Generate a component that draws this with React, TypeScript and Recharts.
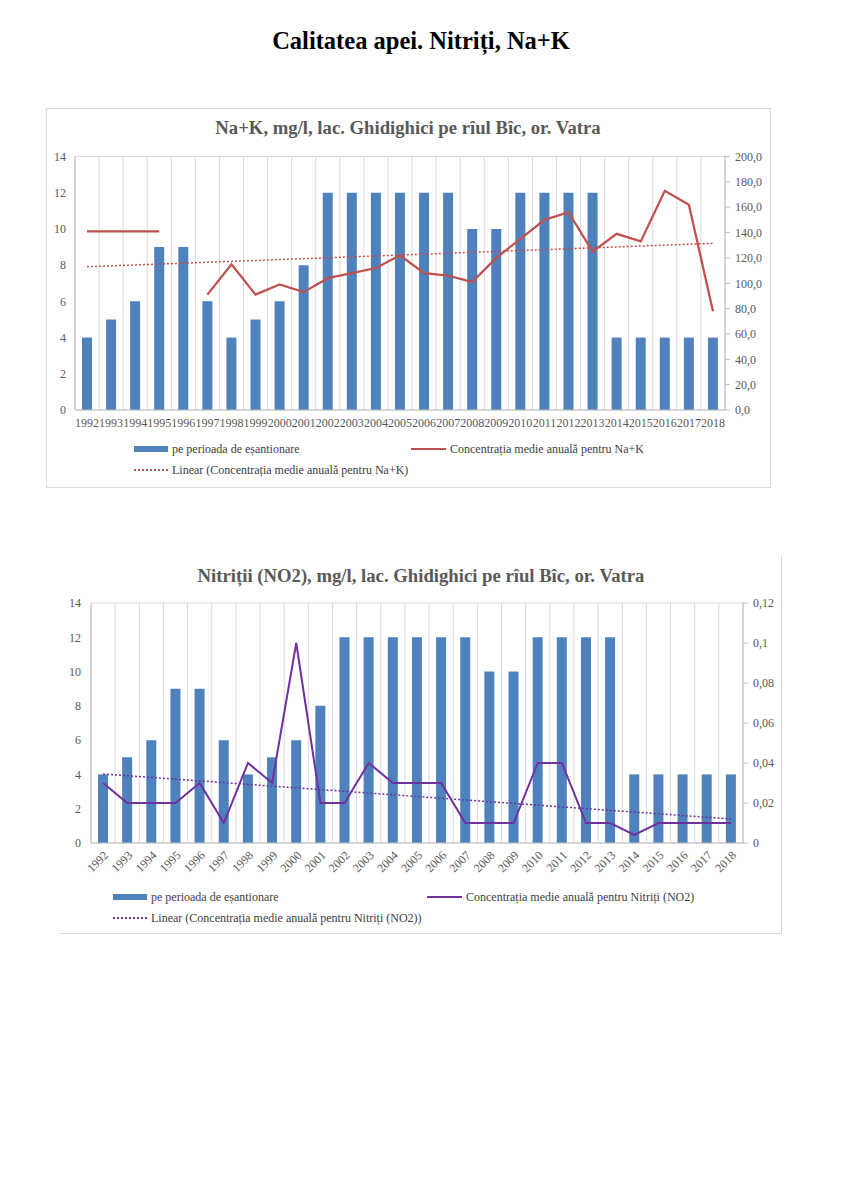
import React from 'react'
import {
  ComposedChart,
  Bar,
  Line,
  XAxis,
  YAxis,
  CartesianGrid,
  ReferenceLine,
} from 'recharts'

// ani de observatie
const years = [
  '1992', '1993', '1994', '1995', '1996', '1997', '1998', '1999', '2000',
  '2001', '2002', '2003', '2004', '2005', '2006', '2007', '2008', '2009',
  '2010', '2011', '2012', '2013', '2014', '2015', '2016', '2017', '2018',
]

// numar de probe pe perioada de esantionare
const samples = [4, 5, 6, 9, 9, 6, 4, 5, 6, 8, 12, 12, 12, 12, 12, 12, 10, 10, 12, 12, 12, 12, 4, 4, 4, 4, 4]

// concentratia medie anuala Na+K (1996 lipseste)
const naK = [141, 141, 141, 141, null, 91, 115, 91, 99, 93, 104, 108, 112, 122, 108, 106, 101, 120, 135, 150, 156, 125, 139, 133, 173, 162, 78]

// concentratia medie anuala nitriti
const no2 = [0.03, 0.02, 0.02, 0.02, 0.03, 0.01, 0.04, 0.03, 0.1, 0.02, 0.02, 0.04, 0.03, 0.03, 0.03, 0.01, 0.01, 0.01, 0.04, 0.04, 0.01, 0.01, 0.004, 0.01, 0.01, 0.01, 0.01]

// capetele liniei de tendinta (1992, 2018)
const naKTrend = [113, 131.5]
const no2Trend = [0.0345, 0.012]

const leftTicks = [0, 2, 4, 6, 8, 10, 12, 14]
const naKTicks = [0, 20, 40, 60, 80, 100, 120, 140, 160, 180, 200]
const no2Ticks = [0, 0.02, 0.04, 0.06, 0.08, 0.1, 0.12]

const FONT = '"Liberation Serif", "Times New Roman", serif'
const BLUE = '#4F81BD'
const RED = '#C0504D'
const PURPLE = '#7030A0'
const GRID = '#D9D9D9'
const AXIS = '#BFBFBF'
const TXT = '#595959'

const data1 = years.map((year, i) => ({ year, probe: samples[i], conc: naK[i] }))
const data2 = years.map((year, i) => ({ year, probe: samples[i], conc: no2[i] }))

const tick = { fontSize: 12, fill: TXT, fontFamily: FONT }

// linii verticale la marginea categoriilor, ca in Excel
const boundaryLines = ({ offset }: any) =>
  Array.from({ length: years.length + 1 }, (_, i) => offset.left + (i * offset.width) / years.length)

function LegendItem({ kind, color, label, x, y }: { kind: 'bar' | 'line' | 'dot'; color: string; label: string; x: number; y: number }) {
  return (
    <div style={{ position: 'absolute', left: x, top: y - 8, height: 16, display: 'flex', alignItems: 'center', whiteSpace: 'nowrap' }}>
      {kind === 'bar' && <span style={{ width: 34, height: 6, background: color, marginRight: 4 }} />}
      {kind === 'line' && <span style={{ width: 35, height: 0, borderTop: `2px solid ${color}`, marginRight: 4 }} />}
      {kind === 'dot' && <span style={{ width: 34, height: 0, borderTop: `2px dotted ${color}`, marginRight: 4 }} />}
      <span style={{ fontSize: 12, color: '#404040', fontFamily: FONT }}>{label}</span>
    </div>
  )
}

export default function App() {
  return (
    <div style={{ position: 'absolute', left: 0, top: 0, width: 842, height: 1191, fontFamily: FONT }}>
      <div style={{ position: 'absolute', left: 0, width: 842, top: 27, textAlign: 'center', fontSize: 24.5, fontWeight: 'bold', color: '#000' }}>
        Calitatea apei. Nitriți, Na+K
      </div>

      {/* Graficul 1: Na+K */}
      <div style={{ position: 'absolute', left: 46, top: 108, width: 723, height: 378, border: '1px solid #D9D9D9' }} />
      <div style={{ position: 'absolute', left: 46, width: 724, top: 117, textAlign: 'center', fontSize: 18.7, fontWeight: 'bold', color: TXT }}>
        Na+K, mg/l, lac. Ghidighici pe rîul Bîc, or. Vatra
      </div>
      <div style={{ position: 'absolute', left: 46, top: 108 }}>
        <ComposedChart width={724} height={379} data={data1} margin={{ top: 48.5, right: 0, left: 0, bottom: 57 }}>
          <CartesianGrid stroke={GRID} verticalCoordinatesGenerator={boundaryLines} />
          <XAxis dataKey="year" interval={0} tick={tick} tickLine={false} axisLine={{ stroke: AXIS }} height={20} tickSize={4} tickMargin={4} />
          <YAxis yAxisId="left" domain={[0, 14]} ticks={leftTicks} tick={tick} tickLine={false} axisLine={{ stroke: AXIS }} width={29} tickSize={4} tickMargin={5} />
          <YAxis yAxisId="right" orientation="right" domain={[0, 200]} ticks={naKTicks} tick={tick} tickLine={{ stroke: AXIS }} axisLine={{ stroke: AXIS }} width={45} tickSize={5} tickMargin={5}
            tickFormatter={(v: number) => v.toFixed(1).replace('.', ',')} />
          <Bar yAxisId="left" dataKey="probe" fill={BLUE} barSize={10} isAnimationActive={false} />
          <Line yAxisId="right" dataKey="conc" stroke={RED} strokeWidth={2.25} dot={false} connectNulls={false} isAnimationActive={false} />
          <ReferenceLine yAxisId="right" segment={[{ x: years[0], y: naKTrend[0] }, { x: years[years.length - 1], y: naKTrend[1] }]}
            stroke={RED} strokeWidth={1.5} strokeDasharray="2 2" />
        </ComposedChart>
      </div>
      <LegendItem kind="bar" color={BLUE} label="pe perioada de eșantionare" x={134} y={449} />
      <LegendItem kind="line" color={RED} label="Concentrația medie anuală pentru Na+K" x={411} y={449} />
      <LegendItem kind="dot" color={RED} label="Linear (Concentrația medie anuală pentru Na+K)" x={134} y={470} />

      {/* Graficul 2: Nitriti */}
      <div style={{ position: 'absolute', left: 60, top: 555, width: 721, height: 378, borderRight: '1px solid #D9D9D9', borderBottom: '1px solid #D9D9D9' }} />
      <div style={{ position: 'absolute', left: 60, width: 722, top: 565, textAlign: 'center', fontSize: 18.7, fontWeight: 'bold', color: TXT }}>
        Nitriții (NO2), mg/l, lac. Ghidighici pe rîul Bîc, or. Vatra
      </div>
      <div style={{ position: 'absolute', left: 60, top: 555 }}>
        <ComposedChart width={722} height={379} data={data2} margin={{ top: 48, right: 0, left: 0, bottom: 31 }}>
          <CartesianGrid stroke={GRID} verticalCoordinatesGenerator={boundaryLines} />
          <XAxis dataKey="year" interval={0} tick={tick} angle={-45} textAnchor="end" tickLine={false} axisLine={{ stroke: AXIS }} height={60} tickSize={4} tickMargin={3} />
          <YAxis yAxisId="left" domain={[0, 14]} ticks={leftTicks} tick={tick} tickLine={false} axisLine={{ stroke: AXIS }} width={31} tickSize={5} tickMargin={5} />
          <YAxis yAxisId="right" orientation="right" domain={[0, 0.12]} ticks={no2Ticks} tick={tick} tickLine={{ stroke: AXIS }} axisLine={{ stroke: AXIS }} width={39} tickSize={5} tickMargin={5}
            tickFormatter={(v: number) => String(v).replace('.', ',')} />
          <Bar yAxisId="left" dataKey="probe" fill={BLUE} barSize={10} isAnimationActive={false} />
          <Line yAxisId="right" dataKey="conc" stroke={PURPLE} strokeWidth={2} dot={false} isAnimationActive={false} />
          <ReferenceLine yAxisId="right" segment={[{ x: years[0], y: no2Trend[0] }, { x: years[years.length - 1], y: no2Trend[1] }]}
            stroke={PURPLE} strokeWidth={1.5} strokeDasharray="2 2" />
        </ComposedChart>
      </div>
      <LegendItem kind="bar" color={BLUE} label="pe perioada de eșantionare" x={113} y={897} />
      <LegendItem kind="line" color={PURPLE} label="Concentrația medie anuală pentru Nitriți (NO2)" x={427} y={897} />
      <LegendItem kind="dot" color={PURPLE} label="Linear (Concentrația medie anuală pentru Nitriți (NO2))" x={113} y={918} />
    </div>
  )
}
